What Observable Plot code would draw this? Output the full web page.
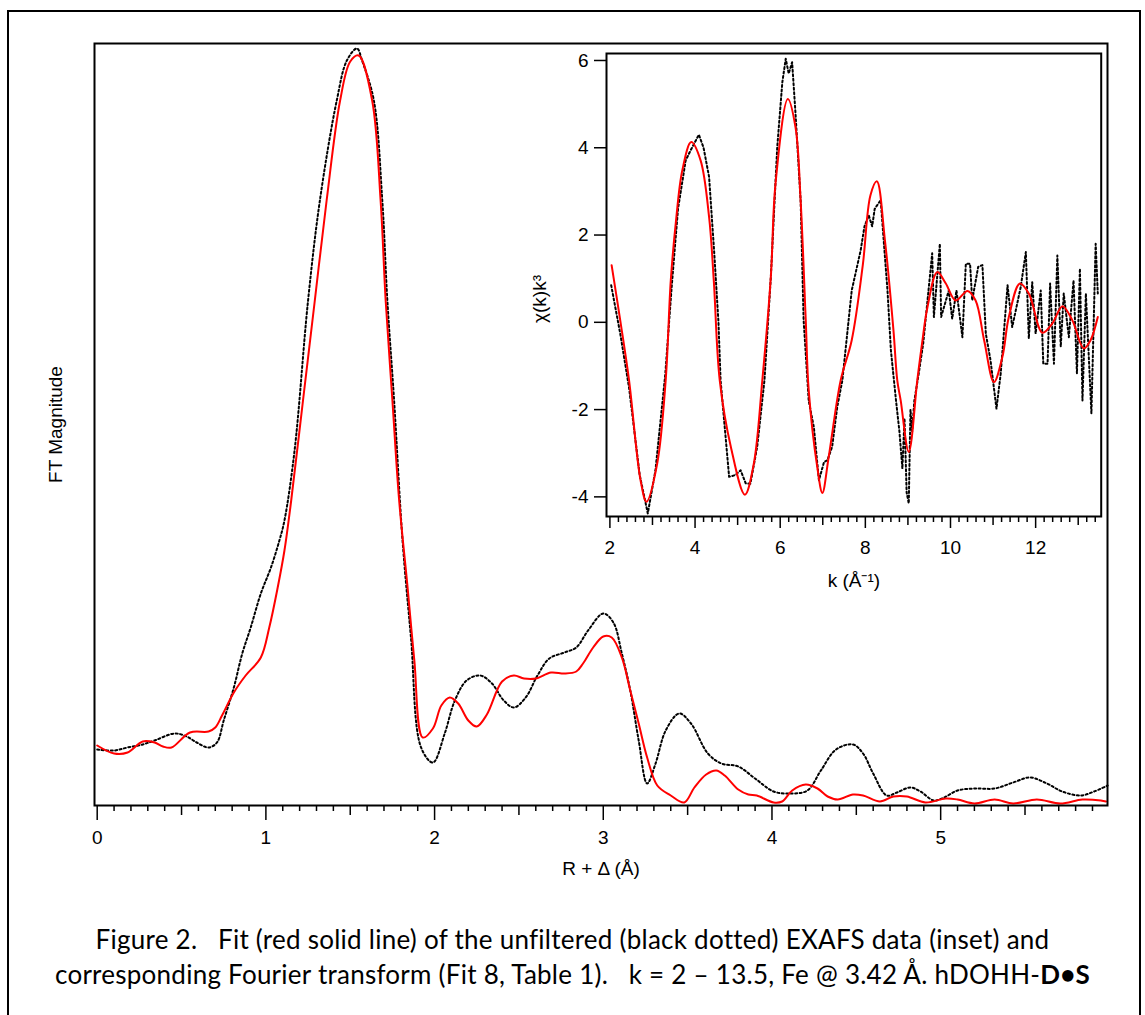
<!DOCTYPE html>
<html><head><meta charset="utf-8">
<script src="https://cdn.jsdelivr.net/npm/d3@7"></script>
<script src="https://cdn.jsdelivr.net/npm/@observablehq/plot@0.6"></script>
<style>
body{margin:0;background:#fff;}
#page{position:relative;width:1145px;height:1015px;overflow:hidden;background:#fff;}
#border{position:absolute;left:7px;top:10px;width:1134px;height:1030px;border:2px solid #000;box-sizing:border-box;}
#main{position:absolute;left:0;top:0;}
#inset{position:absolute;left:490px;top:40px;}
#caption{position:absolute;left:0;top:922px;width:1145px;text-align:center;font-family:Lato,"Noto Sans",sans-serif;font-size:26px;letter-spacing:0.25px;line-height:35px;white-space:pre;color:#000;}
svg{overflow:visible;}
</style></head>
<body>
<div id="page">
  <div id="border"></div>
  <div id="main"></div>
  <div id="inset"></div>
  <div id="caption"><span>Figure 2.   Fit (red solid line) of the unfiltered (black dotted) EXAFS data (inset) and</span>
<span>corresponding Fourier transform (Fit 8, Table 1).   k = 2 – 13.5, Fe @ 3.42 Å. hDOHH-<b>D•S</b></span></div>
</div>
<script>
// ---- Main panel: Fourier transform magnitude vs R + Δ (Å) (arbitrary units) ----
const ftR_fit = [0.00,0.10,0.18,0.27,0.34,0.39,0.44,0.55,0.66,0.70,0.74,0.81,0.88,0.97,1.02,1.07,1.11,1.15,1.22,1.29,1.36,1.44,1.50,1.55,1.63,1.68,1.71,1.75,1.79,1.84,1.88,1.93,1.99,2.04,2.09,2.14,2.20,2.25,2.31,2.40,2.47,2.53,2.60,2.69,2.77,2.84,2.88,2.94,3.00,3.05,3.11,3.16,3.21,3.26,3.32,3.40,3.48,3.54,3.61,3.67,3.72,3.80,3.86,3.91,4.01,4.06,4.12,4.20,4.27,4.33,4.39,4.48,4.54,4.64,4.72,4.80,4.91,5.03,5.10,5.20,5.32,5.43,5.57,5.71,5.84,5.95,5.98];
const ftMag_fit = [0.60,0.52,0.53,0.64,0.63,0.59,0.58,0.73,0.74,0.78,0.90,1.13,1.30,1.48,1.78,2.18,2.55,3.05,4.05,5.05,6.05,7.05,7.44,7.50,7.05,6.05,5.05,4.05,3.05,2.18,1.45,0.68,0.77,1.00,1.08,1.02,0.85,0.79,0.91,1.24,1.30,1.27,1.27,1.33,1.32,1.34,1.42,1.58,1.69,1.68,1.48,1.15,0.82,0.48,0.20,0.10,0.03,0.18,0.31,0.35,0.30,0.16,0.11,0.10,0.03,0.04,0.15,0.21,0.17,0.09,0.06,0.11,0.10,0.04,0.09,0.09,0.03,0.07,0.06,0.02,0.06,0.02,0.06,0.02,0.06,0.05,0.04];
const ftR_data = [0.00,0.10,0.18,0.27,0.34,0.46,0.53,0.59,0.66,0.71,0.75,0.81,0.86,0.91,0.97,1.03,1.08,1.11,1.17,1.25,1.32,1.42,1.48,1.54,1.57,1.64,1.69,1.72,1.76,1.81,1.86,1.92,1.99,2.06,2.12,2.19,2.27,2.34,2.41,2.47,2.54,2.61,2.68,2.77,2.84,2.91,3.00,3.06,3.11,3.16,3.21,3.26,3.31,3.37,3.45,3.52,3.62,3.70,3.80,3.90,4.01,4.11,4.21,4.29,4.38,4.48,4.54,4.60,4.68,4.74,4.82,4.88,4.96,5.02,5.10,5.20,5.32,5.43,5.53,5.63,5.72,5.83,5.91,5.99];
const ftMag_data = [0.56,0.55,0.58,0.61,0.65,0.72,0.69,0.63,0.58,0.63,0.85,1.18,1.52,1.78,2.12,2.38,2.65,2.85,3.55,5.05,6.05,7.05,7.45,7.57,7.45,7.05,6.05,5.05,4.05,2.65,1.68,0.58,0.43,0.72,1.05,1.25,1.30,1.22,1.05,0.98,1.08,1.30,1.47,1.53,1.58,1.75,1.92,1.83,1.52,1.15,0.65,0.22,0.42,0.75,0.92,0.82,0.52,0.42,0.39,0.27,0.14,0.12,0.15,0.35,0.56,0.61,0.52,0.32,0.10,0.13,0.18,0.14,0.05,0.08,0.15,0.17,0.17,0.23,0.28,0.22,0.14,0.10,0.14,0.20];
const rMajorTicks = [0,1,2,3,4,5];
const rXLabel = "R + Δ (Å)";
const ftYLabel = "FT Magnitude";

// ---- Inset: chi(k)k^3 vs k ----
const k_fit = [2.04,2.25,2.45,2.72,2.86,3.11,3.31,3.43,3.55,3.70,3.91,4.13,4.33,4.44,4.58,4.84,5.17,5.38,5.58,5.78,5.89,6.18,6.36,6.48,6.60,6.67,6.87,6.99,7.14,7.42,7.68,7.94,8.12,8.27,8.46,8.66,8.75,8.83,9.02,9.22,9.33,9.46,9.69,9.89,10.12,10.40,10.59,10.79,11.02,11.22,11.37,11.63,11.84,12.16,12.39,12.63,12.86,13.13,13.29,13.46];
const chi_fit = [1.31,0.00,-1.33,-3.62,-4.11,-3.24,-1.33,0.96,2.30,3.48,4.13,3.71,2.41,0.96,-1.33,-2.85,-3.95,-3.24,-1.33,1.04,3.18,5.12,4.47,2.79,0.05,-1.56,-3.31,-3.91,-3.08,-1.33,-0.41,1.31,2.91,3.23,1.88,-0.18,-1.33,-1.79,-2.97,-1.33,-0.50,0.35,1.15,0.89,0.50,0.72,0.50,-0.41,-1.37,-0.79,0.12,0.89,0.66,-0.24,-0.03,0.37,0.05,-0.60,-0.41,0.12];
const k_data = [2.03,2.25,2.45,2.70,2.89,3.07,3.30,3.45,3.60,3.78,3.90,4.09,4.20,4.33,4.45,4.55,4.60,4.80,4.95,5.07,5.19,5.30,5.46,5.63,5.78,5.93,6.05,6.13,6.20,6.28,6.36,6.48,6.55,6.67,6.79,6.91,7.03,7.11,7.22,7.34,7.46,7.68,7.89,7.98,8.08,8.16,8.22,8.36,8.52,8.60,8.72,8.80,8.87,8.92,8.97,9.02,9.06,9.10,9.15,9.25,9.36,9.46,9.57,9.61,9.75,9.78,9.96,10.04,10.14,10.28,10.36,10.46,10.51,10.65,10.75,10.83,10.94,11.08,11.18,11.34,11.45,11.65,11.77,11.84,11.92,12.00,12.12,12.18,12.28,12.34,12.43,12.51,12.59,12.66,12.78,12.89,12.97,13.04,13.10,13.18,13.31,13.41,13.46];
const chi_data = [0.85,-0.30,-1.50,-3.50,-4.38,-3.39,-1.20,0.80,2.60,3.71,3.95,4.30,4.00,3.33,1.60,0.00,-1.33,-3.54,-3.50,-3.39,-3.69,-3.70,-2.85,-1.33,1.04,4.01,5.50,6.04,5.70,5.96,4.78,2.79,0.05,-1.80,-2.40,-3.62,-3.20,-3.16,-2.85,-1.94,-1.33,0.73,1.65,2.20,2.45,2.20,2.60,2.80,0.73,-0.64,-1.79,-2.50,-3.35,-2.20,-3.90,-4.15,-2.00,-2.50,-1.80,-1.20,-0.48,0.50,1.58,0.12,1.80,0.12,0.73,0.08,0.73,-0.34,1.34,1.34,0.50,1.27,1.31,-0.26,-0.87,-1.98,-1.17,0.85,-0.11,0.81,1.61,-0.37,0.92,-0.26,0.73,-0.95,-0.95,0.89,-0.95,1.53,-0.56,0.66,-0.34,0.96,-1.17,1.23,-1.79,0.66,-2.09,1.80,0.66];
const kMajorTicks = [2,4,6,8,10,12];
const kMidTicks = [3,5,7,9,11,13];
const chiTicks = [-4,-2,0,2,4,6];
const kXLabel = "k (Å⁻¹)";
const chiYLabel = "χ(k)k³";

const RED = "#ff0000";
const FONT = "'Liberation Sans', Arial, sans-serif";
const FS = 19;
const DOTS = "2,2.5";

const fitRows = ftR_fit.map((r, i) => ({r, m: ftMag_fit[i]}));
const dataRows = ftR_data.map((r, i) => ({r, m: ftMag_data[i]}));
const rMidTicks = [0.5,1.5,2.5,3.5,4.5,5.5];
const rMinorTicks = d3.range(1, 60).map(i => i / 10).filter(v => Math.abs(v * 2 - Math.round(v * 2)) > 1e-6);

const main = Plot.plot({
  width: 1145, height: 890,
  marginLeft: 94, marginRight: 38, marginTop: 43, marginBottom: 85,
  style: {background: "transparent", fontFamily: FONT, color: "#000", overflow: "visible"},
  x: {domain: [-0.016, 5.989]},
  y: {domain: [0, 7.62], axis: null},
  marks: [
    Plot.axisX({ticks: rMinorTicks, tickSize: 6, text: null, label: null, strokeWidth: 1.5}),
    Plot.axisX({ticks: rMidTicks, tickSize: 10, text: null, label: null, strokeWidth: 1.5}),
    Plot.axisX({ticks: rMajorTicks, tickSize: 15, tickPadding: 10, fontSize: FS, tickFormat: d => String(d), label: null, strokeWidth: 1.5}),
    Plot.line(dataRows, {x: "r", y: "m", stroke: "#000", strokeWidth: 2, strokeDasharray: DOTS, curve: "catmull-rom"}),
    Plot.line(fitRows, {x: "r", y: "m", stroke: RED, strokeWidth: 2, curve: "catmull-rom"}),
    Plot.frame({stroke: "#000", strokeWidth: 2}),
    Plot.text([rXLabel], {frameAnchor: "bottom", lineAnchor: "middle", dy: 63, fontSize: FS}),
    Plot.text([ftYLabel], {frameAnchor: "left", textAnchor: "middle", lineAnchor: "middle", rotate: -90, dx: -39, fontSize: FS})
  ]
});
document.getElementById("main").appendChild(main);

const kFitRows = k_fit.map((k, i) => ({k, c: chi_fit[i]}));
const kDataRows = k_data.map((k, i) => ({k, c: chi_data[i]}));
const kMinorTicks = d3.range(11, 68).map(i => i / 5).filter(v => Math.abs(v - Math.round(v)) > 1e-6);

const inset = Plot.plot({
  width: 630, height: 570,
  marginLeft: 116, marginTop: 13, marginRight: 19.3, marginBottom: 94,
  style: {background: "transparent", fontFamily: FONT, color: "#000", overflow: "visible"},
  x: {domain: [1.92, 13.54]},
  y: {domain: [-4.45, 6.16]},
  marks: [
    Plot.axisY({ticks: chiTicks, tickSize: 12, text: null, label: null, strokeWidth: 1.5}),
    Plot.text(chiTicks, {y: d => d, frameAnchor: "left", textAnchor: "end", lineAnchor: "middle", dx: -18, fontSize: FS, text: d => String(d)}),
    Plot.axisX({ticks: kMinorTicks, tickSize: 6, text: null, label: null, strokeWidth: 1.5}),
    Plot.axisX({ticks: kMidTicks, tickSize: 9, text: null, label: null, strokeWidth: 1.5}),
    Plot.axisX({ticks: kMajorTicks, tickSize: 12, tickPadding: 12, fontSize: FS, tickFormat: d => String(d), label: null, strokeWidth: 1.5}),
    Plot.line(kDataRows, {x: "k", y: "c", stroke: "#000", strokeWidth: 2, strokeDasharray: DOTS}),
    Plot.line(kFitRows, {x: "k", y: "c", stroke: RED, strokeWidth: 2, curve: "catmull-rom"}),
    Plot.frame({stroke: "#000", strokeWidth: 2}),
    Plot.text([kXLabel], {frameAnchor: "bottom", lineAnchor: "middle", dy: 64, fontSize: FS}),
    Plot.text([chiYLabel], {frameAnchor: "left", textAnchor: "middle", lineAnchor: "middle", rotate: -90, dx: -67, dy: 14, fontSize: FS})
  ]
});
document.getElementById("inset").appendChild(inset);
</script>
</body></html>
